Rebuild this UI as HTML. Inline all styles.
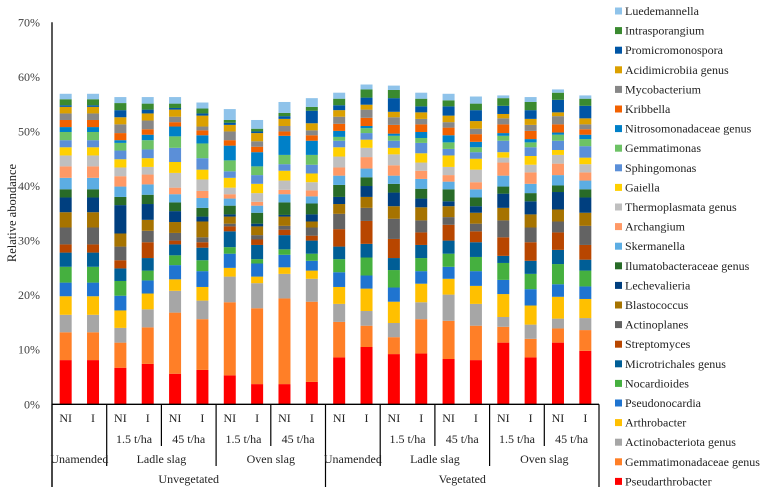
<!DOCTYPE html>
<html><head><meta charset="utf-8"><style>
html,body{margin:0;padding:0;background:#fff;}
svg{display:block;font-family:"Liberation Serif",serif;}
</style></head><body>
<svg id="chart" width="767" height="495" viewBox="0 0 767 495" xmlns="http://www.w3.org/2000/svg">
<g id="bars"></g>
<g id="axes"></g>
<g id="legend"></g>
</svg>
<script>
const treatments = ["NI","I","NI","I","NI","I","NI","I","NI","I","NI","I","NI","I","NI","I","NI","I","NI","I"];
const yTicks = [0,10,20,30,40,50,60,70];
const seriesNames = ["Pseudarthrobacter","Gemmatimonadaceae genus","Actinobacteriota genus","Arthrobacter","Pseudonocardia","Nocardioides","Microtrichales genus","Streptomyces","Actinoplanes","Blastococcus","Lechevalieria","Ilumatobacteraceae genus","Skermanella","Archangium","Thermoplasmata genus","Gaiella","Sphingomonas","Gemmatimonas","Nitrosomonadaceae genus","Kribbella","Mycobacterium","Acidimicrobiia genus","Promicromonospora","Intrasporangium","Luedemannella"];
const seriesColors = ["#ff0000","#ff7f27","#a6a6a6","#ffc000","#1f74d0","#45b03f","#005e96","#b84600","#636363","#a67300","#003f7f","#286b28","#5cade3","#ff9966","#bfbfbf","#ffd000","#5b8fd8","#6dc265","#0080c8","#f26100","#878787","#dba000","#0055a5","#3a8a30","#8fc3ea"];
const pseudarthrobacter = [8.1,8.1,6.7,7.4,5.6,6.3,5.3,3.7,3.7,4.1,8.6,10.5,9.2,9.3,8.3,8.1,11.3,8.6,11.3,9.8];
const gemmatimonadaceae = [5.1,5.1,4.6,6.7,11.2,9.3,13.4,13.9,15.7,14.7,6.5,3.9,3.1,6.3,7.0,6.3,2.9,3.4,2.6,3.8];
const actinobacteriota = [3.2,3.2,2.7,3.3,4.0,3.4,4.7,4.6,4.5,4.2,3.3,2.7,2.6,3.1,4.8,4.0,1.8,2.6,1.8,2.2];
const arthrobacter = [3.4,3.4,3.2,2.9,2.1,2.5,1.6,1.2,1.2,1.5,3.1,4.1,3.9,3.4,2.9,3.3,4.2,3.5,4.0,3.5];
const pseudonocardia = [2.5,2.5,2.7,2.4,2.6,2.9,2.6,2.4,2.3,1.8,2.7,2.4,2.6,2.3,2.2,2.7,2.6,3.0,2.3,2.3];
const nocardioides = [2.9,2.9,2.7,1.8,1.8,2.0,1.2,0.8,1.0,1.3,2.4,3.3,3.2,2.4,2.4,2.6,3.1,2.8,3.7,2.9];
const microtrichales = [2.6,2.6,2.3,2.3,2.0,2.3,2.9,2.6,2.6,2.4,2.3,2.5,2.2,2.4,2.4,2.7,1.3,2.4,2.6,2.0];
const streptomyces = [1.5,1.5,1.5,2.9,0.7,1.0,0.9,1.0,1.0,0.9,3.2,4.2,3.5,2.3,2.9,2.0,3.4,3.4,3.2,2.7];
const actinoplanes = [3.1,3.1,2.5,2.1,1.4,0.9,0.5,0.8,0.7,1.5,2.8,2.4,3.7,2.2,1.4,1.4,3.1,2.7,2.0,3.5];
const blastococcus = [2.8,2.8,2.4,2.0,2.0,2.9,1.3,1.6,1.7,1.1,1.8,2.0,2.3,2.4,2.0,2.0,2.3,2.4,2.2,2.4];
const lechevalieria = [2.7,2.7,5.2,2.9,2.0,0.9,0.4,0.5,0.3,1.3,1.3,2.0,2.5,1.6,0.9,1.2,2.6,2.4,3.2,2.8];
const ilumatobacteraceae = [1.5,1.5,1.5,1.7,1.6,1.6,1.6,2.0,2.3,2.0,2.2,1.6,1.6,1.8,2.2,1.6,1.3,1.5,1.2,1.5];
const skermanella = [2.1,2.1,1.9,1.9,1.5,1.8,1.3,1.3,1.5,1.3,1.7,1.6,1.5,1.8,1.4,1.5,2.0,1.7,1.9,1.6];
const archangium = [2.1,2.1,1.9,1.8,1.2,1.3,0.8,0.7,0.8,1.1,1.5,2.1,1.9,1.5,1.2,1.3,2.4,2.1,2.1,1.5];
const thermoplasmata = [2.0,2.0,1.6,1.4,2.7,2.1,1.2,1.6,1.7,1.5,2.0,1.7,2.0,1.5,1.5,2.3,0.9,1.4,1.6,1.5];
const gaiella = [1.5,1.5,1.5,1.6,2.0,1.8,1.8,1.7,1.8,1.6,1.7,1.5,1.2,1.7,2.1,2.0,1.0,1.6,0.9,1.2];
const sphingomonas = [1.3,1.3,1.6,1.6,2.6,2.1,1.2,1.6,1.2,1.6,1.2,1.2,1.3,1.9,1.2,1.2,2.1,1.6,1.7,2.1];
const gemmatimonas = [1.5,1.5,1.4,1.7,2.1,2.7,2.0,1.6,1.7,1.8,0.7,0.9,0.9,0.9,1.2,0.9,0.9,0.9,1.1,1.3];
const nitrosomonadaceae = [0.9,0.9,0.5,1.0,1.8,1.5,2.7,2.6,3.5,2.6,1.1,0.4,0.4,1.1,1.3,1.0,0.5,0.6,0.4,0.8];
const kribbella = [1.3,1.3,1.3,1.0,0.8,0.9,1.0,1.0,0.8,1.0,1.3,1.5,1.6,1.4,1.4,1.4,1.6,1.5,1.5,1.0];
const mycobacterium = [1.2,1.2,1.6,1.6,1.0,0.7,1.6,1.0,1.0,0.9,1.3,1.5,1.4,1.0,1.0,1.0,1.1,1.1,1.5,0.9];
const acidimicrobiia = [1.2,1.2,1.3,1.3,1.3,2.0,1.2,1.5,1.3,1.3,1.2,0.9,1.0,1.2,1.2,1.4,0.8,1.1,0.7,1.1];
const promicromonospora = [0.3,0.3,1.3,0.7,0.3,0.4,0.4,0.3,0.5,2.3,0.9,1.3,2.5,1.1,1.7,2.0,1.5,1.6,2.3,2.3];
const intrasporangium = [1.1,1.1,1.3,1.1,0.8,0.9,0.5,0.5,0.6,0.7,1.2,1.5,1.5,1.4,1.1,1.2,1.4,1.5,1.3,1.3];
const luedemannella = [1.0,1.0,1.1,1.2,1.2,1.1,2.0,1.6,2.0,1.6,1.1,0.9,0.8,1.1,1.2,1.3,0.5,0.9,0.6,0.6];
const seriesValues = [pseudarthrobacter,gemmatimonadaceae,actinobacteriota,arthrobacter,pseudonocardia,nocardioides,microtrichales,streptomyces,actinoplanes,blastococcus,lechevalieria,ilumatobacteraceae,skermanella,archangium,thermoplasmata,gaiella,sphingomonas,gemmatimonas,nitrosomonadaceae,kribbella,mycobacterium,acidimicrobiia,promicromonospora,intrasporangium,luedemannella];
const doseLabels = ["","1.5 t/ha","45 t/ha","1.5 t/ha","45 t/ha","","1.5 t/ha","45 t/ha","1.5 t/ha","45 t/ha"];
const amendLabels = ["Unamended","Ladle slag","Oven slag","Unamended","Ladle slag","Oven slag"];
const amendSpans = [2,4,4,2,4,4];
const vegLabels = ["Unvegetated","Vegetated"];

const NS="http://www.w3.org/2000/svg";
const X0=52, X1=599, Y0=404.3, Y70=22.3;
const slot=(X1-X0)/treatments.length;
const barW=12;
function xPos(k){return X0+k*slot;}
function yPos(v){return Y0-(v/70)*(Y0-Y70);}
function mk(tag,attrs,parent){const e=document.createElementNS(NS,tag);for(const k in attrs)e.setAttribute(k,attrs[k]);parent.appendChild(e);return e;}

const gb=document.getElementById('bars');
for(let b=0;b<treatments.length;b++){
  let cum=0;
  const cx=xPos(b+0.5);
  for(let s=0;s<seriesValues.length;s++){
    const v=seriesValues[s][b];
    const r=mk('rect',{x:cx-barW/2,y:yPos(cum+v),width:barW,height:yPos(cum)-yPos(cum+v),fill:seriesColors[s]},gb);
    
    
    cum+=v;
  }
}
const ga=document.getElementById('axes');
for(const t of yTicks){
  const tx=mk('text',{x:40,y:yPos(t)+4,'text-anchor':'end','font-size':12,fill:'#404040'},ga);
  tx.textContent=t+'%';
  
  
}
const yl=mk('line',{x1:X0,y1:Y70,x2:X0,y2:487,stroke:'#000','stroke-width':1.3},ga);


const yt=mk('text',{x:0,y:0,transform:'translate(16,213) rotate(-90)','text-anchor':'middle','font-size':12.5,fill:'#222'},ga);
yt.textContent='Relative abondance';


const xl=mk('line',{x1:X0,y1:Y0,x2:X1,y2:Y0,stroke:'#000','stroke-width':1.3},ga);


for(let b=0;b<treatments.length;b++){
  const tx=mk('text',{x:xPos(b+0.5),y:422,'text-anchor':'middle','font-size':12,fill:'#222'},ga);
  tx.textContent=treatments[b];
  
  
}
const sepLen={0:487,2:466,4:446,6:466,8:446,10:487,12:466,14:446,16:466,18:446,20:487};
for(const k in sepLen){
  const l=mk('line',{x1:xPos(+k),y1:Y0,x2:xPos(+k),y2:sepLen[k],stroke:'#000','stroke-width':1.2},ga);
  
  
}
for(let p=0;p<doseLabels.length;p++){
  if(!doseLabels[p])continue;
  const tx=mk('text',{x:xPos(p*2+1),y:443,'text-anchor':'middle','font-size':12,fill:'#222'},ga);
  tx.textContent=doseLabels[p];
  
  
}
let k0=0;
for(let i=0;i<amendLabels.length;i++){
  const tx=mk('text',{x:xPos(k0+amendSpans[i]/2),y:463,'text-anchor':'middle','font-size':12,fill:'#222'},ga);
  tx.textContent=amendLabels[i];
  
  
  k0+=amendSpans[i];
}
for(let i=0;i<vegLabels.length;i++){
  const tx=mk('text',{x:xPos(i*10+5),y:483,'text-anchor':'middle','font-size':12,fill:'#222'},ga);
  tx.textContent=vegLabels[i];
  
  
}
const gl=document.getElementById('legend');
const n=seriesNames.length;
for(let s=0;s<n;s++){
  const row=n-1-s;
  const cy=11+row*19.6;
  const g=mk('g',{},gl);
  
  
  mk('rect',{x:615,y:cy-3.5,width:7,height:7,fill:seriesColors[s]},g);
  const tx=mk('text',{x:625,y:cy+4,'font-size':12,fill:'#222'},g);
  tx.textContent=seriesNames[s];
}
</script>
</body></html>
